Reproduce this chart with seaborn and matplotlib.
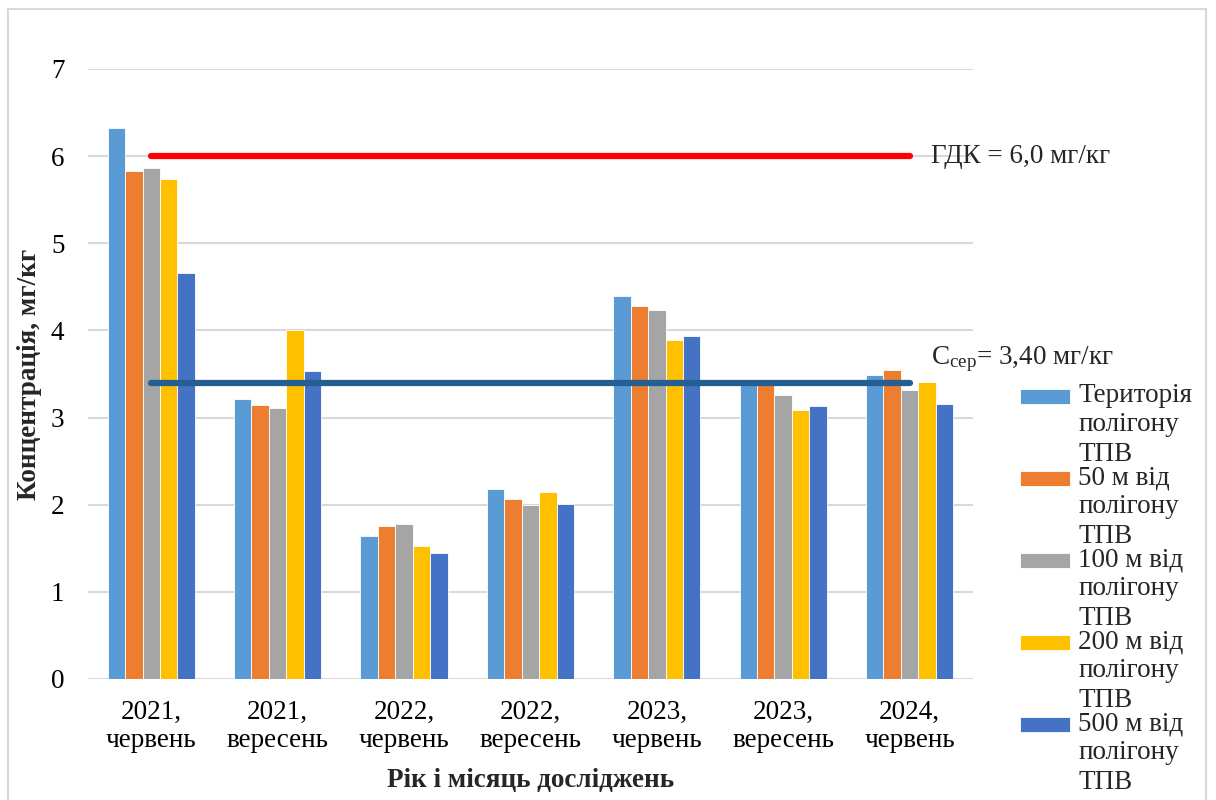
import matplotlib
matplotlib.use("Agg")
import matplotlib.pyplot as plt
from matplotlib.patches import Rectangle
import seaborn as sns
import pandas as pd

# Sampling dates (year, month)
periods = ["2021,\nчервень", "2021,\nвересень", "2022,\nчервень", "2022,\nвересень",
           "2023,\nчервень", "2023,\nвересень", "2024,\nчервень"]

# Sampling points
points = ["Територія\nполігону\nТПВ", "50 м від\nполігону\nТПВ", "100 м від\nполігону\nТПВ",
          "200 м від\nполігону\nТПВ", "500 м від\nполігону\nТПВ"]

# Concentration, mg/kg, per sampling point
territory = [6.32, 3.21, 1.64, 2.18, 4.39, 3.42, 3.49]
m50 = [5.83, 3.15, 1.76, 2.07, 4.28, 3.39, 3.55]
m100 = [5.86, 3.11, 1.78, 2.00, 4.23, 3.26, 3.32]
m200 = [5.74, 4.01, 1.53, 2.15, 3.89, 3.09, 3.41]
m500 = [4.66, 3.53, 1.45, 2.01, 3.94, 3.13, 3.16]

mpc = 6.0      # ГДК
c_mean = 3.40  # середнє значення

colors = ["#5B9BD5", "#ED7D31", "#A5A5A5", "#FFC000", "#4472C4"]
FS = 19.5

series = [territory, m50, m100, m200, m500]
df = pd.DataFrame({
    "period": [p for s in series for p in periods],
    "point": [pt for pt, s in zip(points, series) for _ in s],
    "value": [v for s in series for v in s],
})

sns.set_theme(style="white")
plt.rcParams["font.family"] = ["Liberation Serif", "DejaVu Serif"]
plt.rcParams["mathtext.fontset"] = "custom"
plt.rcParams["mathtext.rm"] = "Liberation Serif"
plt.rcParams["mathtext.it"] = "Liberation Serif:italic"
plt.rcParams["mathtext.bf"] = "Liberation Serif:bold"

fig = plt.figure(figsize=(12.16, 8.0), dpi=100)
ax = fig.add_axes([0.0724, 0.15125, 0.7276, 0.7625])

sns.barplot(data=df, x="period", y="value", hue="point", order=periods,
            hue_order=points, palette=colors, width=0.69, gap=0,
            edgecolor="white", linewidth=0.6, saturation=1, ax=ax, zorder=2)

# Reference lines across the categories
xs = list(range(len(periods)))
ax.plot(xs, [mpc] * len(xs), color="#FF0000", lw=4.5, solid_capstyle="round", zorder=3)
ax.plot(xs, [c_mean] * len(xs), color="#255E91", lw=4.5, solid_capstyle="round", zorder=3)
ax.text(6.17, mpc, "ГДК = 6,0 мг/кг", fontsize=FS, va="center", ha="left", zorder=4)
ax.text(6.17, c_mean + 0.27, "C$_{\\mathrm{сер}}$= 3,40 мг/кг", fontsize=FS,
        va="center", ha="left", zorder=4)

ax.set_xlim(-0.5, 6.5)
ax.set_ylim(0, 7)
ax.set_yticks(range(0, 8))
ax.yaxis.grid(True, color="#D9D9D9", lw=1.5, zorder=0)
ax.xaxis.grid(False)
for sp in ax.spines.values():
    sp.set_visible(False)
ax.tick_params(axis="both", length=0, labelsize=FS, colors="black")
ax.tick_params(axis="y", pad=17)
ax.tick_params(axis="x", pad=15)
for lbl in ax.get_xticklabels():
    lbl.set_linespacing(1.15)

ax.set_xlabel("Рік і місяць досліджень", fontsize=FS, fontweight="bold", labelpad=11)
ax.set_ylabel("Концентрація, мг/кг", fontsize=FS, fontweight="bold", labelpad=6)

leg = ax.legend(loc="upper left", bbox_to_anchor=(1.053, 0.485), frameon=False,
                fontsize=FS, handlelength=1.87, handleheight=0.52, handletextpad=0.3,
                labelspacing=-0.05, borderaxespad=0, borderpad=0)
for t in leg.get_texts():
    t.set_linespacing(1.22)

# Put each legend swatch level with the first line of its label
fig.canvas.draw()
renderer = fig.canvas.get_renderer()
fs_px = FS * fig.dpi / 72
for txt, patch in zip(leg.get_texts(), leg.legend_handles):
    tb = txt.get_window_extent(renderer)
    pb = patch.get_window_extent(renderer)
    target_top = tb.y1 - 0.2 * fs_px
    patch.set_y(patch.get_y() + (target_top - pb.y1) * 72 / fig.dpi)

# Chart frame
fig.patches.append(Rectangle((8 / 1216, -0.05), 1198 / 1216, 1.05 - 9 / 800,
                             transform=fig.transFigure, fill=False,
                             edgecolor="#D9D9D9", lw=1.5))

fig.savefig("out.png", dpi=100)
